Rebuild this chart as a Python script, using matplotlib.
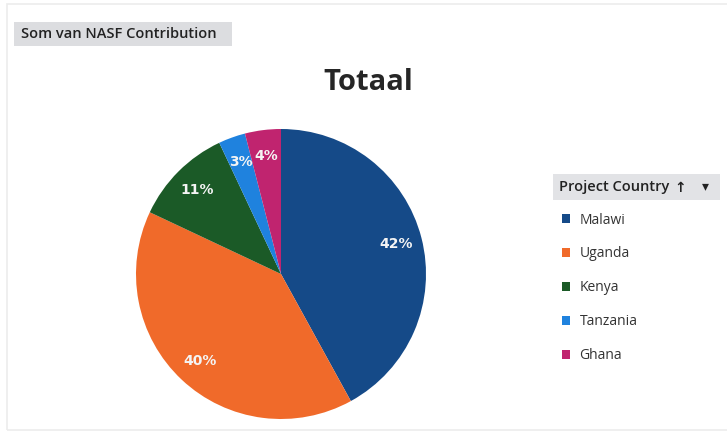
import matplotlib
matplotlib.use('Agg')
import matplotlib.pyplot as plt
from matplotlib.patches import Rectangle, Patch

# data
countries = ['Malawi', 'Uganda', 'Kenya', 'Tanzania', 'Ghana']
share = [42, 40, 11, 3, 4]
colors = ['#154a88', '#f06a2a', '#1b5a27', '#1f82de', '#c0246f']

W, H = 727, 434
fig = plt.figure(figsize=(W / 100, H / 100), dpi=100)
fig.patch.set_facecolor('white')

def fx(px):
    return px / W

def fy(py):
    return 1 - py / H

# faint outer frame
fig.patches.append(Rectangle((fx(7), fy(430)), fx(727 - 7 + 5), (430 - 4) / H,
                             transform=fig.transFigure, fill=False,
                             edgecolor='#ececec', linewidth=1.2))

# header box top-left
fig.patches.append(Rectangle((fx(14), fy(46)), fx(218), 24 / H,
                             transform=fig.transFigure, facecolor='#dcdde0',
                             edgecolor='none'))
fig.text(fx(21), fy(34), 'Som van NASF Contribution', fontsize=10.5,
         family='Open Sans', fontweight='semibold', color='#222222',
         va='center', ha='left')

# title
fig.text(fx(368), fy(82), 'Totaal', fontsize=21, family='Open Sans',
         fontweight='bold', color='#262626', ha='center', va='center')

# pie
cx, cy, r = 281, 274, 145
ax = fig.add_axes([fx(cx - r), fy(cy + r), 2 * r / W, 2 * r / H])
wedges, texts, autotexts = ax.pie(share, colors=colors, startangle=90,
                                  counterclock=False, radius=1,
                                  autopct='%d%%', pctdistance=0.82,
                                  wedgeprops=dict(linewidth=0))
for t in autotexts:
    t.set_color('#f4f4f4')
    t.set_fontsize(10)
    t.set_fontweight('bold')
ax.set_xlim(-1, 1)
ax.set_ylim(-1, 1)
ax.set_aspect('equal')
ax.axis('off')

# legend header
fig.patches.append(Rectangle((fx(553), fy(200)), fx(167), 26 / H,
                             transform=fig.transFigure, facecolor='#e2e3e6',
                             edgecolor='none'))
fig.text(fx(559), fy(187), 'Project Country', fontsize=10.5,
         family='Open Sans', fontweight='semibold', color='#222222',
         va='center', ha='left')
fig.text(fx(680), fy(188), '\u2191', fontsize=10, family='DejaVu Sans',
         fontweight='bold', color='#222222', va='center', ha='center')
fig.text(fx(705), fy(186), '\u25be', fontsize=10, family='DejaVu Sans',
         color='#222222', va='center', ha='center')

handles = [Patch(facecolor=c, edgecolor='none') for c in colors]
leg = fig.legend(handles, countries, loc='upper left',
                 bbox_to_anchor=(fx(549), fy(200)), frameon=False,
                 handlelength=0.6, handleheight=0.6,
                 handletextpad=0.7, labelspacing=1.36,
                 prop={'family': 'Open Sans', 'size': 10})
for t in leg.get_texts():
    t.set_color('#333333')

fig.savefig('out.png', dpi=100)
